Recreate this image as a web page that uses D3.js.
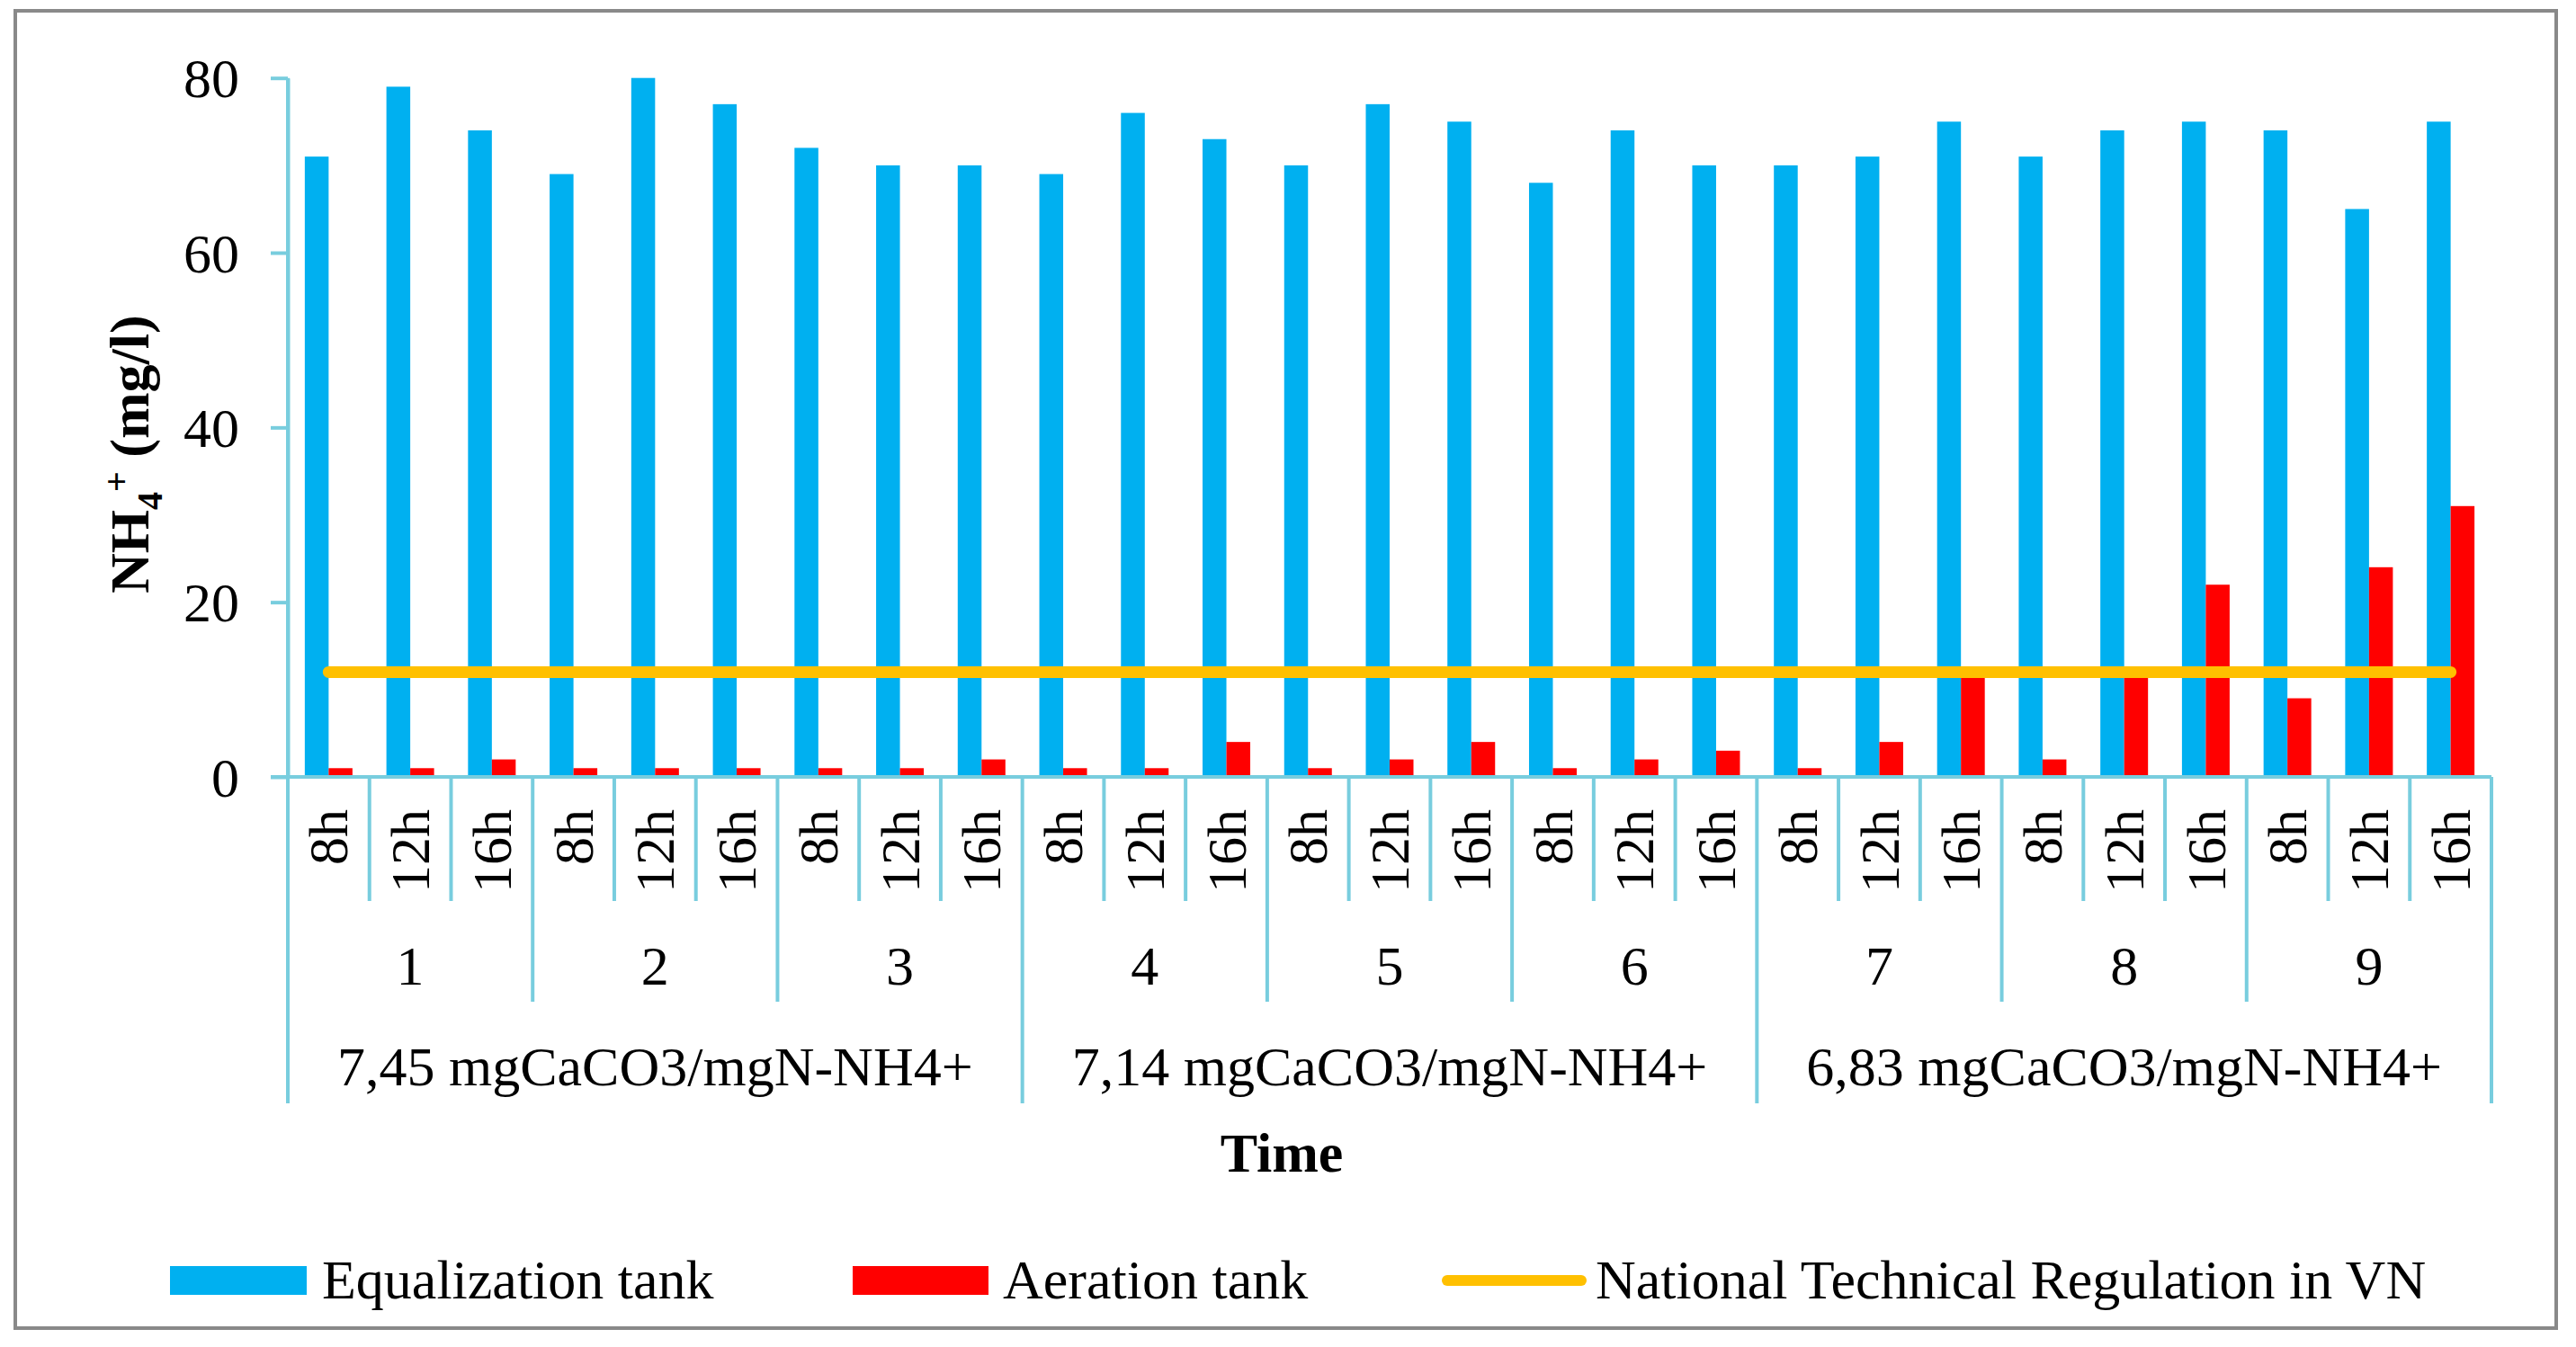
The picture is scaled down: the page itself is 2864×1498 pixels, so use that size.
<!DOCTYPE html>
<html>
<head>
<meta charset="utf-8">
<script src="https://cdn.jsdelivr.net/npm/d3@7"></script>
<style>
  html, body { margin: 0; padding: 0; background: #ffffff; }
  svg { display: block; }
  text { font-family: "Liberation Serif", "Times New Roman", serif; fill: #000; }
</style>
</head>
<body>
<script>
// ---------------- data ----------------
const ratios = ["7,45 mgCaCO3/mgN-NH4+", "7,14 mgCaCO3/mgN-NH4+", "6,83 mgCaCO3/mgN-NH4+"];
const days = ["1", "2", "3", "4", "5", "6", "7", "8", "9"];
const times = ["8h", "12h", "16h"];
const equalization = [71, 79, 74, 69, 80, 77, 72, 70, 70, 69, 76, 73, 70, 77, 75, 68, 74, 70, 70, 71, 75, 71, 74, 75, 74, 65, 75];
const aeration = [1, 1, 2, 1, 1, 1, 1, 1, 2, 1, 1, 4, 1, 2, 4, 1, 2, 3, 1, 4, 12, 2, 12, 22, 9, 24, 31];
const regulation = 12;
const yTicks = [0, 20, 40, 60, 80];
const seriesNames = ["Equalization tank", "Aeration tank", "National Technical Regulation in VN"];

// ---------------- layout ----------------
const W = 2864, H = 1498;
const colBlue = "#00B0F0", colRed = "#FF0000", colYellow = "#FFC000";
const axisCol = "#78CDDE", borderCol = "#898989";
const FS = 62;

const svg = d3.select("body").append("svg").attr("width", W).attr("height", H);
svg.append("rect").attr("width", W).attr("height", H).attr("fill", "#fff");
svg.append("rect").attr("x", 17).attr("y", 12).attr("width", 2825).attr("height", 1465)
  .attr("fill", "none").attr("stroke", borderCol).attr("stroke-width", 4);

const plotL = 320, plotR = 2770, plotT = 86.7, plotB = 864;

const cats = d3.range(days.length * times.length);
const x = d3.scaleBand().domain(cats).range([plotL, plotR]).padding(0);
const xs = d3.scaleBand().domain(["eq", "ae"]).range([0, x.bandwidth()]).paddingInner(0).paddingOuter(0.712);
const y = d3.scaleLinear().domain([0, 80]).range([plotB, plotT]);

// bars
const g = svg.append("g");
g.selectAll("rect.eq").data(equalization).enter().append("rect")
  .attr("x", (d, i) => x(i) + xs("eq")).attr("width", xs.bandwidth())
  .attr("y", d => y(d)).attr("height", d => y(0) - y(d)).attr("fill", colBlue);
g.selectAll("rect.ae").data(aeration).enter().append("rect")
  .attr("x", (d, i) => x(i) + xs("ae")).attr("width", xs.bandwidth())
  .attr("y", d => y(d)).attr("height", d => y(0) - y(d)).attr("fill", colRed);

// y axis
const yAxis = d3.axisLeft(y).tickValues(yTicks).tickSize(19).tickPadding(35).tickSizeOuter(0);
const ya = svg.append("g").attr("transform", `translate(${plotL},0)`).call(yAxis);
ya.select(".domain").attr("stroke", axisCol).attr("stroke-width", 4);
ya.selectAll(".tick line").attr("stroke", axisCol).attr("stroke-width", 4);
ya.selectAll(".tick text").attr("font-size", FS).attr("font-family", "Liberation Serif").attr("fill", "#000").attr("dy", "0.34em");

// x axis multi-level
const xg = svg.append("g").attr("stroke", axisCol).attr("stroke-width", 4);
const bounds = d3.range(cats.length + 1);
const bx = i => (i < cats.length ? x(i) : x(cats.length - 1) + x.bandwidth());
bounds.forEach(i => {
  let y2 = 1002;
  if (i % 3 === 0) y2 = 1114;
  if (i % 9 === 0) y2 = 1227;
  xg.append("line").attr("x1", bx(i)).attr("x2", bx(i)).attr("y1", i === 0 ? plotT : plotB).attr("y2", y2);
});
xg.append("line").attr("x1", plotL - 19).attr("x2", plotR).attr("y1", plotB).attr("y2", plotB);

// level 1 labels
cats.forEach(i => {
  svg.append("text").attr("transform", `translate(${x(i) + x.bandwidth() / 2},900) rotate(-90)`)
    .attr("text-anchor", "end").attr("dy", "0.34em").attr("font-size", FS).text(times[i % 3]);
});
// level 2 labels
days.forEach((d, k) => {
  const cx = (bx(k * 3) + bx(k * 3 + 3)) / 2;
  svg.append("text").attr("x", cx).attr("y", 1095).attr("text-anchor", "middle").attr("font-size", FS).text(d);
});
// level 3 labels
ratios.forEach((r, k) => {
  const cx = (bx(k * 9) + bx(k * 9 + 9)) / 2;
  svg.append("text").attr("x", cx).attr("y", 1207).attr("text-anchor", "middle").attr("font-size", FS).text(r);
});

// regulation line
const line = d3.line().x(d => x(d) + x.bandwidth() / 2).y(() => y(regulation));
svg.append("path").datum(cats).attr("d", line).attr("fill", "none")
  .attr("stroke", colYellow).attr("stroke-width", 13).attr("stroke-linecap", "round");

// axis titles
svg.append("text").attr("x", 1425).attr("y", 1303).attr("text-anchor", "middle")
  .attr("font-size", FS).attr("font-weight", "bold").text("Time");

const yt = svg.append("text").attr("transform", "translate(165,660) rotate(-90)")
  .attr("text-anchor", "start").attr("font-size", FS).attr("font-weight", "bold");
yt.append("tspan").text("NH");
yt.append("tspan").attr("font-size", 40).attr("dy", 15).text("4");
yt.append("tspan").attr("font-size", 40).attr("dy", -37).text("+");
yt.append("tspan").attr("dy", 22).text(" (mg/l)");

// legend
const lg = svg.append("g");
lg.append("rect").attr("x", 189).attr("y", 1408).attr("width", 152).attr("height", 32).attr("fill", colBlue);
lg.append("text").attr("x", 358).attr("y", 1444).attr("font-size", FS).text(seriesNames[0]);
lg.append("rect").attr("x", 948).attr("y", 1408).attr("width", 151).attr("height", 32).attr("fill", colRed);
lg.append("text").attr("x", 1115).attr("y", 1444).attr("font-size", FS).text(seriesNames[1]);
lg.append("line").attr("x1", 1609).attr("x2", 1758).attr("y1", 1424).attr("y2", 1424)
  .attr("stroke", colYellow).attr("stroke-width", 12).attr("stroke-linecap", "round");
lg.append("text").attr("x", 1774).attr("y", 1444).attr("font-size", FS).text(seriesNames[2]);
</script>
</body>
</html>
